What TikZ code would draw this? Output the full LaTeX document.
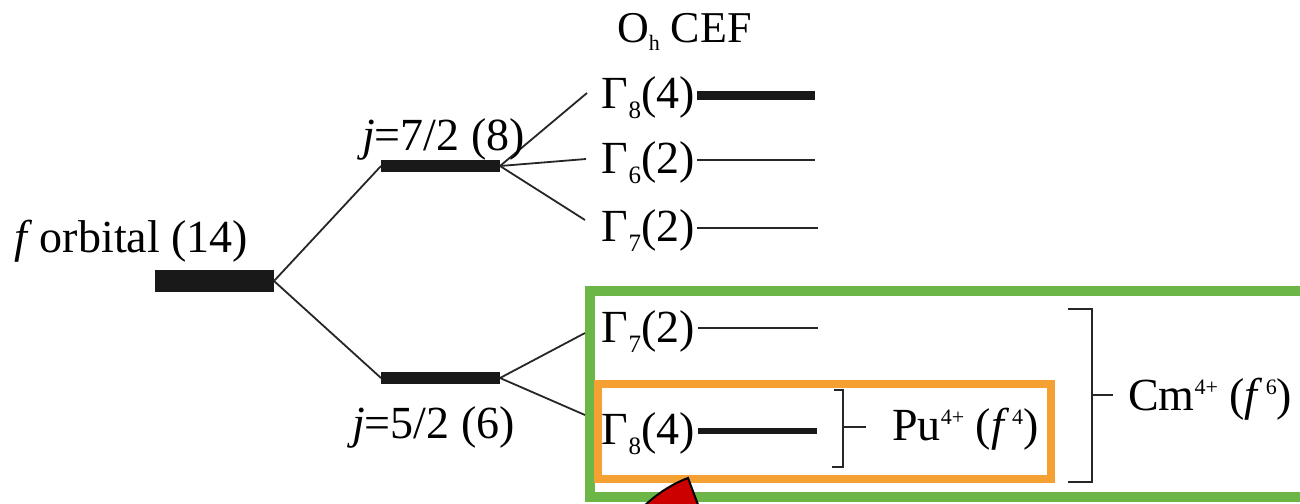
\documentclass[tikz,border=0pt]{standalone}
\usepackage{fontspec}
\setmainfont{LiberationSerif}[Extension=.ttf, UprightFont=*-Regular, ItalicFont=*-Italic, BoldFont=*-Bold, BoldItalicFont=*-BoldItalic]
\definecolor{boxgreen}{RGB}{108,182,72}
\definecolor{boxorange}{RGB}{245,160,50}
\definecolor{arrred}{RGB}{205,0,0}
\newcommand\fsmain{\fontsize{46}{50}\selectfont}
\newcommand\fsmid{\fontsize{44}{48}\selectfont}
\newcommand\Gam[1]{Γ\kern0.5pt\raisebox{-10pt}{\fontsize{25}{25}\selectfont #1}}
\newcommand\supx[1]{\raisebox{16pt}{\fontsize{22}{22}\selectfont #1}}
\begin{document}
\begin{tikzpicture}[x=1pt,y=-1pt,
  lbl/.style={font=\fsmain, inner sep=0pt, text=black},
  conn/.style={line width=1.8pt, draw=black!85},
  lvl/.style={line width=2pt, draw=black!85},
  boldlvl/.style={line width=#1, draw=black!90},
  brk/.style={line width=2.4pt, draw=black!85},
]
\useasboundingbox (0,0) rectangle (1300,503);
\clip (0,0) rectangle (1300,503);
\fill[white] (0,0) rectangle (1300,503);

% boxes
\draw[boxgreen, line width=10pt] (590,291) rectangle (1330,497);
\draw[boxorange, line width=8pt] (598,384) rectangle (1051,479);

% bars
\coordinate (fL) at (155,281); \coordinate (fR) at (274,281);
\coordinate (aL) at (381,166); \coordinate (aR) at (500,166);
\coordinate (bL) at (381,378); \coordinate (bR) at (500,378);
\draw[boldlvl=22pt] (fL) -- (fR);
\draw[boldlvl=12pt] (aL) -- (aR);
\draw[boldlvl=12pt] (bL) -- (bR);

% CEF levels
\coordinate (t8L) at (697,95);  \coordinate (t8R) at (815,95);
\coordinate (t6L) at (697,160); \coordinate (t6R) at (815,160);
\coordinate (t7L) at (697,228); \coordinate (t7R) at (818,228);
\coordinate (l7L) at (698,328); \coordinate (l7R) at (818,328);
\coordinate (l8L) at (698,431); \coordinate (l8R) at (817,431);
\draw[boldlvl=9pt] (t8L) -- (t8R);
\draw[lvl] (t6L) -- (t6R);
\draw[lvl] (t7L) -- (t7R);
\draw[lvl] (l7L) -- (l7R);
\draw[boldlvl=6pt] (l8L) -- (l8R);

% labels of CEF levels
\node[lbl, anchor=base east] (g8t) at (695,108) {\Gam{8}(4)};
\node[lbl, anchor=base east] (g6t) at (695,173) {\Gam{6}(2)};
\node[lbl, anchor=base east] (g7t) at (695,241) {\Gam{7}(2)};
\node[lbl, anchor=base east] (g7l) at (695,342) {\Gam{7}(2)};
\node[lbl, anchor=base east] (g8l) at (695,444) {\Gam{8}(4)};

\coordinate (e8t) at (587,93);
\coordinate (e6t) at (586,159);
\coordinate (e7t) at (585,220);
\coordinate (e7l) at (585,333);
\coordinate (e8l) at (585,415);

% connectors
\draw[conn] (fR) -- (aL);
\draw[conn] (fR) -- (bL);
\draw[conn] (aR) -- (e8t);
\draw[conn] (aR) -- (e6t);
\draw[conn] (aR) -- (e7t);
\draw[conn] (bR) -- (e7l);
\draw[conn] (bR) -- (e8l);

% other labels
\node[lbl, anchor=base west] (forb) at (14,252) {\textit{f}\,orbital (14)};
\node[lbl, anchor=base west] (j72) at (362,150) {\textit{j}=7/2 (8)};
\node[lbl, anchor=base west] (j52) at (352,438) {\textit{j}=5/2 (6)};
\node[lbl, font=\fsmid, anchor=base west] (oh) at (617,42) {O\raisebox{-9pt}{\fontsize{22}{22}\selectfont h} CEF};

% brackets
\coordinate (puT) at (843,390); \coordinate (puB) at (843,467); \coordinate (puM) at (843,427);
\draw[brk] (834,390) -- (puT) -- (puB) -- (832,467);
\draw[brk] (puM) -- (866,427);
\node[lbl, anchor=base west] (pu) at (892,440) {Pu\supx{4+} (\textit{f}\kern3pt\supx{4})};

\coordinate (cmT) at (1092,309); \coordinate (cmB) at (1092,482); \coordinate (cmM) at (1092,395);
\draw[brk] (1068,309) -- (cmT) -- (cmB) -- (1068,482);
\draw[brk] (cmM) -- (1113,395);
\node[lbl, anchor=base west] (cm) at (1128,410) {Cm\supx{4+} (\textit{f}\kern3pt\supx{6})};

% red arrow head (cut off)
\filldraw[fill=arrred, draw=black, line width=2pt]
  (640,510) .. controls (656,494) and (672,484) .. (688,478) -- (700,510) -- cycle;
\end{tikzpicture}
\end{document}
